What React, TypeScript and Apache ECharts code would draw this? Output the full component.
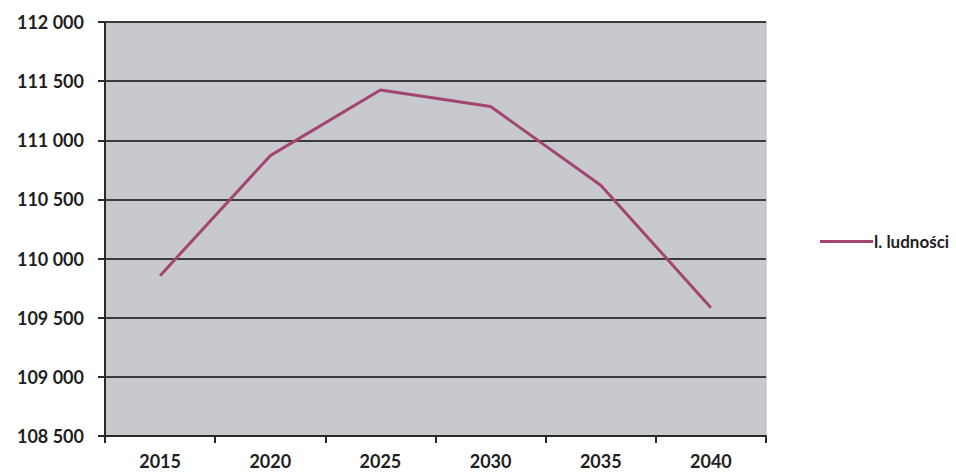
import React, { useEffect, useRef } from "react";
import * as echarts from "echarts";

const years = ["2015", "2020", "2025", "2030", "2035", "2040"];
const population = [109855, 110870, 111425, 111285, 110620, 109585];
const seriesName = "l. ludności";
const yMin = 108500;
const yMax = 112000;
const yStep = 500;

const fmt = (v: number) => {
  const s = String(Math.round(v));
  return s.replace(/\B(?=(\d{3})+(?!\d))/g, " ");
};

export default function App() {
  const ref = useRef<HTMLDivElement>(null);
  useEffect(() => {
    if (!ref.current) return;
    const chart = echarts.init(ref.current, null, { renderer: "svg" });
    const font = "Lato, 'Open Sans', sans-serif";
    chart.setOption({
      animation: false,
      backgroundColor: "#ffffff",
      textStyle: { fontFamily: font },
      grid: {
        left: 105,
        top: 22,
        right: 190,
        bottom: 37,
        show: true,
        backgroundColor: "#c8c9ce",
        borderColor: "#b9babf",
        borderWidth: 1,
      },
      legend: {
        show: true,
        left: 815,
        top: 228,
        icon: "rect",
        itemWidth: 53,
        itemHeight: 3,
        itemGap: 4,
        textStyle: {
          fontFamily: font,
          fontWeight: "bold",
          fontSize: 17,
          color: "#1e1e1e",
          padding: [0, 0, 0, -4],
        },
        data: [seriesName],
      },
      xAxis: {
        type: "category",
        data: years,
        boundaryGap: true,
        axisLine: { show: true, lineStyle: { color: "#2a2a2a", width: 2 } },
        axisTick: { show: true, length: 7, lineStyle: { color: "#2a2a2a", width: 2 } },
        axisLabel: {
          margin: 16,
          fontFamily: font,
          fontWeight: "bold",
          fontSize: 18,
          color: "#1e1e1e",
        },
        splitLine: { show: false },
      },
      yAxis: {
        type: "value",
        min: yMin,
        max: yMax,
        interval: yStep,
        axisLine: { show: true, lineStyle: { color: "#2a2a2a", width: 2 } },
        axisTick: { show: true, length: 7, lineStyle: { color: "#2a2a2a", width: 2 } },
        axisLabel: {
          margin: 21,
          fontFamily: font,
          fontWeight: "bold",
          fontSize: 18,
          color: "#1e1e1e",
          formatter: (v: number) => fmt(v),
        },
        splitLine: { show: true, lineStyle: { color: "#3a3b3d", width: 2 } },
      },
      series: [
        {
          name: seriesName,
          type: "line",
          data: population,
          symbol: "none",
          smooth: false,
          lineStyle: { color: "#a3466f", width: 3 },
          itemStyle: { color: "#a3466f" },
        },
      ],
    });
    return () => chart.dispose();
  }, []);
  return <div ref={ref} style={{ width: 956, height: 473, position: "absolute", left: 0, top: 0 }} />;
}
